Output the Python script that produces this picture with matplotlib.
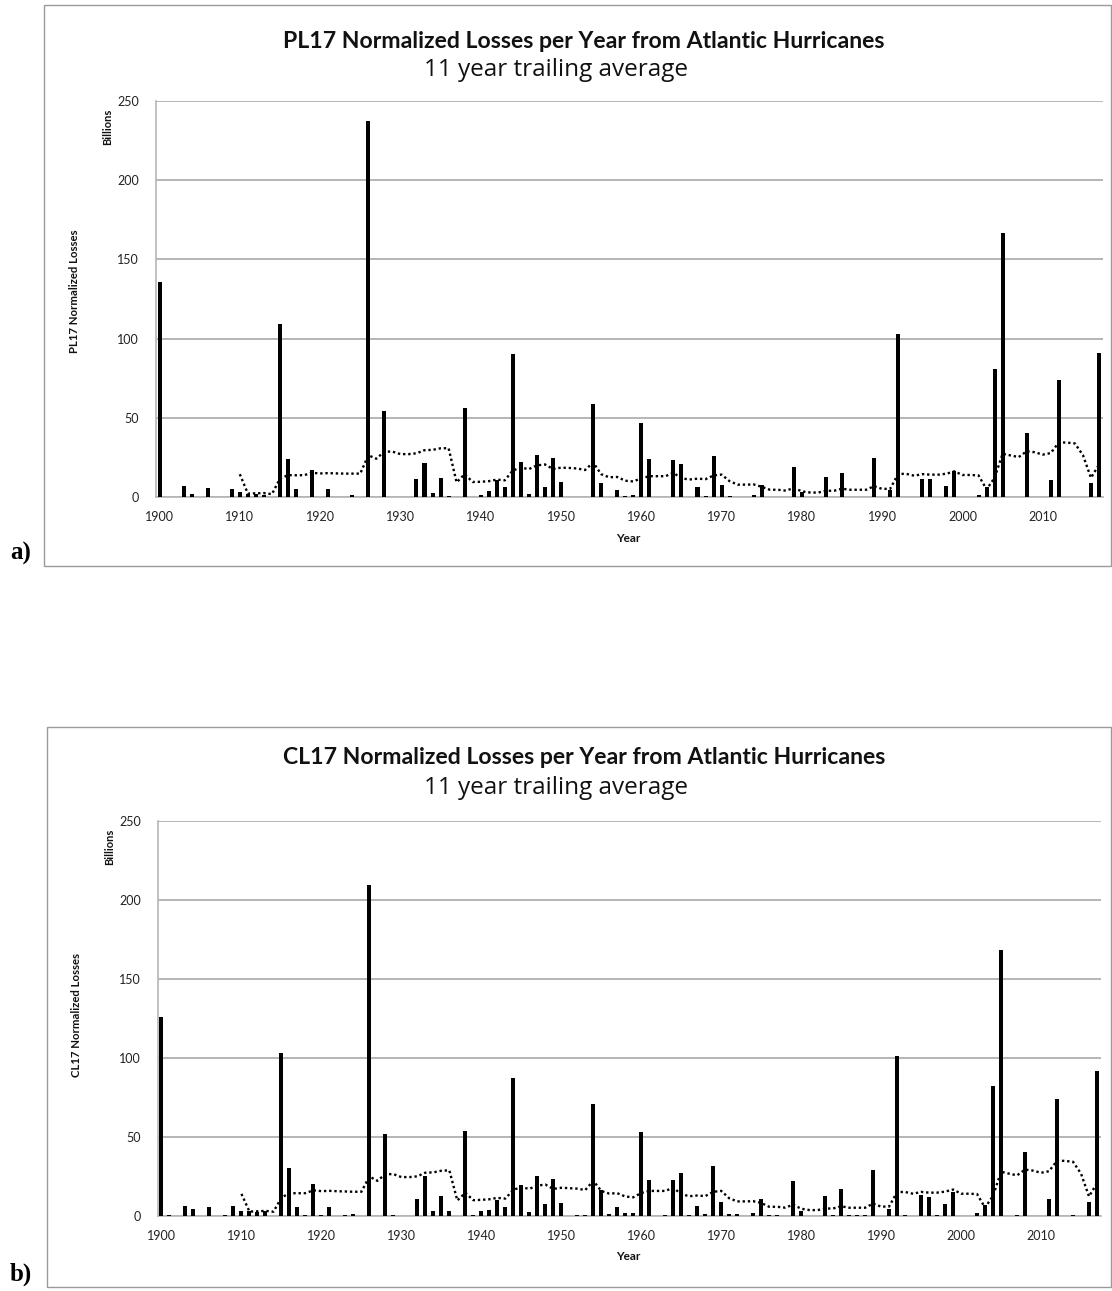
import matplotlib
matplotlib.use("Agg")
import matplotlib.pyplot as plt
import numpy as np
import pandas as pd
from matplotlib.patches import Rectangle

plt.rcParams['font.family'] = ['Lato', 'DejaVu Sans']

years = list(range(1900, 2018))

pl17 = [136, 0.5, 0, 7.3, 2, 0, 5.7, 0, 0.5, 5.2,
        3.1, 1.9, 1.9, 1.5, 0, 109.5, 24.2, 5, 0.5, 17.2,
        0.5, 5.5, 0, 0.3, 1.5, 0, 237, 0, 54.4, 0.5,
        0, 0, 11.3, 21.6, 2.7, 12.2, 1, 0, 56.5, 0.5,
        1.7, 4.2, 10.9, 6.3, 90.2, 22, 2.3, 26.7, 6.5, 25,
        9.6, 0, 0.3, 0.3, 58.8, 8.8, 0.5, 4.4, 0.8, 1.5,
        46.7, 24.2, 0, 0.3, 23.7, 20.8, 0.5, 6.3, 1, 26.2,
        7.8, 0.8, 0.5, 0, 1.5, 7.6, 0.3, 0.3, 0, 19.3,
        3.1, 0, 0, 13, 0.5, 15.5, 0.3, 0.3, 0.3, 25,
        0, 4.4, 103, 0.3, 0, 11.7, 11.7, 0.3, 6.9, 16.4,
        0, 0, 1.5, 6.3, 80.7, 166.5, 0, 0.3, 40.7, 0,
        0, 10.7, 74.2, 0, 0.3, 0, 8.8, 91.2]

cl17 = [125.8, 0.3, 0, 6.1, 4.4, 0, 5.7, 0, 0.3, 6.1,
        3.2, 2.7, 2.1, 3.2, 0, 103, 30.4, 5.3, 0.5, 20.3,
        0.3, 5.3, 0, 0.3, 1.3, 0, 209.5, 0, 51.9, 0.3,
        0, 0, 10.8, 25.3, 2.7, 12.5, 2.7, 0, 53.4, 0.3,
        2.7, 3.9, 9.9, 5.7, 87.1, 19.2, 2.3, 24.9, 7.4, 23.2,
        8.2, 0, 0.3, 0.3, 70.5, 16, 0.8, 5.3, 1.5, 1.9,
        53, 22.8, 0, 0.3, 22.4, 27, 0.3, 6.1, 1, 31.2,
        8.9, 1.3, 1, 0, 1.7, 10.3, 0.3, 0.3, 0, 21.7,
        3, 0, 0, 12.5, 0.3, 17.1, 0.3, 0.3, 0.3, 29.1,
        0, 4.2, 100.8, 0.3, 0, 13.3, 12, 0.3, 7.2, 15,
        0, 0, 1.7, 6.5, 82, 168, 0, 0.3, 40.3, 0,
        0, 10.8, 73.6, 0, 0.3, 0, 8.7, 91.6]

titles = ["PL17 Normalized Losses per Year from Atlantic Hurricanes",
          "CL17 Normalized Losses per Year from Atlantic Hurricanes"]
subtitle = "11 year trailing average"
ylabels = ["PL17 Normalized Losses", "CL17 Normalized Losses"]
panel_labels = ["a)", "b)"]
yticks = [0, 50, 100, 150, 200, 250]
xticks = list(range(1900, 2020, 10))
window = 11

W, H = 1112, 1291
fig = plt.figure(figsize=(W / 100, H / 100), dpi=100)


def rect(left, top, right, bottom):
    return [left / W, 1 - bottom / H, (right - left) / W, (bottom - top) / H]


panels = [
    dict(frame=(44, 5, 1111, 566), ax=(155.5, 100.7, 1103, 497.3), title_y=41, sub_y=70,
         ylab=(75, 291), bill=(108, 127), year_y=538, lab_y=553, data=pl17),
    dict(frame=(47, 727, 1111, 1287), ax=(157.5, 820.7, 1101, 1215.7), title_y=758, sub_y=788,
         ylab=(77, 1015), bill=(110, 847), year_y=1257, lab_y=1274, data=cl17),
]

for i, p in enumerate(panels):
    fl, ft, fr, fb = p['frame']
    fig.patches.append(Rectangle((fl / W, 1 - fb / H), (fr - fl) / W, (fb - ft) / H,
                                 transform=fig.transFigure, fill=False,
                                 edgecolor='#9a9a9a', linewidth=1.0))
    ax = fig.add_axes(rect(*p['ax']))
    vals = p['data']
    ax.bar(years, vals, width=0.5, color='black', zorder=3)
    avg = pd.Series(vals, index=years).rolling(window).mean()
    ax.plot(avg.index, avg.values, color='black', linestyle=(0, (1, 1.2)),
            linewidth=1.7, zorder=4)
    ax.set_xlim(1899.5, 2017.5)
    ax.set_ylim(0, 250)
    ax.set_yticks(yticks)
    ax.set_xticks(xticks)
    ax.tick_params(axis='both', length=0, labelsize=9, colors='#222222')
    ax.tick_params(axis='x', pad=10)
    ax.tick_params(axis='y', pad=12)
    ax.grid(axis='y', color='#b5b5b5', linewidth=1.4, zorder=0)
    for s in ['top', 'right']:
        ax.spines[s].set_visible(False)
    for s in ['left', 'bottom']:
        ax.spines[s].set_color('#b5b5b5')
        ax.spines[s].set_linewidth(1.2)
    ax.set_axisbelow(True)

    fig.text(584 / W, 1 - p['title_y'] / H, titles[i], ha='center', va='center',
             fontsize=16.6, fontweight='bold', color='#111111')
    fig.text(556 / W, 1 - p['sub_y'] / H, subtitle, ha='center', va='center',
             fontsize=17.5, family=['Open Sans', 'DejaVu Sans'], color='#111111')
    fig.text(p['ylab'][0] / W, 1 - p['ylab'][1] / H, ylabels[i], rotation=90,
             ha='center', va='center', fontsize=8.2, fontweight='bold', color='#111111')
    fig.text(p['bill'][0] / W, 1 - p['bill'][1] / H, "Billions", rotation=90,
             ha='center', va='center', fontsize=8, fontweight='bold', color='#111111')
    fig.text(628 / W, 1 - p['year_y'] / H, "Year", ha='center', va='center',
             fontsize=8.5, fontweight='bold', color='#111111')
    fig.text(10 / W, 1 - p['lab_y'] / H, panel_labels[i], ha='left', va='center',
             fontsize=18, fontweight='bold', family='Liberation Serif', color='black')

fig.savefig("out.png", dpi=100)
